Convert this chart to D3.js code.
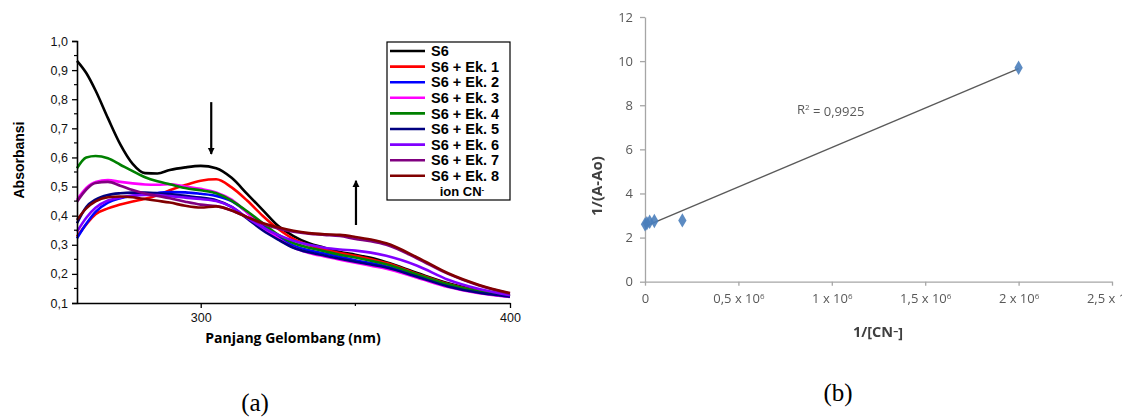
<!DOCTYPE html>
<html>
<head>
<meta charset="utf-8">
<script src="https://cdn.jsdelivr.net/npm/d3@7/dist/d3.min.js"></script>
<style>
  body { margin: 0; background: #fff; }
  svg { display: block; }
</style>
</head>
<body>
<svg id="chart" width="1122" height="419"></svg>
<script>
// ---------- data (a) : UV-Vis spectra ----------
var wavelength = [260, 263, 266, 270, 274, 278, 282, 286, 290, 295, 300, 305, 310, 315, 320, 325, 330, 335, 340, 345, 350, 355, 360, 370, 380, 390, 400];

var s6   = [0.932, 0.89, 0.83, 0.735, 0.645, 0.578, 0.546, 0.545, 0.557, 0.566, 0.571, 0.563, 0.53, 0.475, 0.42, 0.365, 0.33, 0.305, 0.29, 0.275, 0.266, 0.255, 0.24, 0.203, 0.168, 0.143, 0.125];
var ek1  = [0.328, 0.37, 0.405, 0.425, 0.438, 0.449, 0.458, 0.47, 0.487, 0.505, 0.52, 0.525, 0.497, 0.452, 0.4, 0.355, 0.32, 0.298, 0.283, 0.272, 0.262, 0.25, 0.237, 0.2, 0.165, 0.14, 0.124];
var ek2  = [0.322, 0.372, 0.413, 0.445, 0.46, 0.468, 0.474, 0.478, 0.481, 0.48, 0.475, 0.468, 0.45, 0.412, 0.37, 0.327, 0.297, 0.281, 0.27, 0.259, 0.247, 0.237, 0.225, 0.192, 0.158, 0.136, 0.122];
var ek3  = [0.454, 0.495, 0.516, 0.522, 0.516, 0.511, 0.507, 0.506, 0.508, 0.5, 0.492, 0.48, 0.455, 0.41, 0.36, 0.322, 0.29, 0.272, 0.26, 0.249, 0.238, 0.228, 0.218, 0.187, 0.155, 0.134, 0.121];
var ek4  = [0.563, 0.6, 0.605, 0.597, 0.575, 0.553, 0.532, 0.518, 0.508, 0.495, 0.487, 0.477, 0.452, 0.415, 0.375, 0.335, 0.306, 0.29, 0.278, 0.266, 0.256, 0.245, 0.233, 0.198, 0.164, 0.139, 0.124];
var ek5  = [0.374, 0.43, 0.455, 0.471, 0.477, 0.479, 0.479, 0.477, 0.474, 0.468, 0.462, 0.453, 0.43, 0.39, 0.35, 0.318, 0.29, 0.274, 0.263, 0.252, 0.242, 0.232, 0.222, 0.19, 0.157, 0.135, 0.122];
var ek6  = [0.345, 0.393, 0.427, 0.452, 0.462, 0.469, 0.471, 0.471, 0.467, 0.462, 0.457, 0.45, 0.43, 0.393, 0.36, 0.334, 0.314, 0.3, 0.29, 0.284, 0.28, 0.273, 0.262, 0.228, 0.18, 0.148, 0.127];
var ek7  = [0.448, 0.49, 0.512, 0.516, 0.503, 0.488, 0.476, 0.468, 0.46, 0.448, 0.438, 0.433, 0.418, 0.395, 0.372, 0.356, 0.345, 0.338, 0.334, 0.33, 0.32, 0.312, 0.3, 0.253, 0.2, 0.16, 0.132];
var ek8  = [0.385, 0.425, 0.449, 0.463, 0.466, 0.463, 0.457, 0.451, 0.445, 0.434, 0.428, 0.432, 0.418, 0.395, 0.375, 0.36, 0.348, 0.34, 0.336, 0.334, 0.327, 0.318, 0.305, 0.257, 0.202, 0.162, 0.134];

var seriesNames  = ["S6", "S6 + Ek. 1", "S6 + Ek. 2", "S6 + Ek. 3", "S6 + Ek. 4", "S6 + Ek. 5", "S6 + Ek. 6", "S6 + Ek. 7", "S6 + Ek. 8"];
var seriesValues = [s6, ek1, ek2, ek3, ek4, ek5, ek6, ek7, ek8];
var seriesColors = ["#000000", "#ff0000", "#0000ff", "#ff00ff", "#008000", "#000080", "#8000ff", "#800080", "#800000"];
var absTicks = [0.1, 0.2, 0.3, 0.4, 0.5, 0.6, 0.7, 0.8, 0.9, 1.0];

// ---------- data (b) : Benesi-Hildebrand ----------
var invCN   = [0, 10000, 25000, 50000, 200000, 2000000];
var invAA0  = [2.6, 2.65, 2.72, 2.75, 2.78, 9.7];
var bYTicks = [0, 2, 4, 6, 8, 10, 12];
var bXTicks = [0, 500000, 1000000, 1500000, 2000000, 2500000];
var bXLabels = ["0", "0,5 x 10", "1 x 10", "1,5 x 10", "2 x 10", "2,5 x 10"];

var svg = d3.select("#chart");
svg.append("rect").attr("width", 1122).attr("height", 419).attr("fill", "#fff");

// =============== panel (a) ===============
var xA = d3.scaleLinear().domain([260, 400]).range([77, 510]);
var yA = d3.scaleLinear().domain([0.1, 1.0]).range([303, 41]);
var fmtComma = function(d) { return d3.format(".1f")(d).replace(".", ","); };

var gA = svg.append("g");

var line = d3.line()
  .x(function(d, i) { return xA(wavelength[i]); })
  .y(function(d) { return yA(d); })
  .curve(d3.curveMonotoneX);

gA.selectAll("path.spec")
  .data(seriesValues)
  .enter().append("path")
  .attr("class", "spec")
  .attr("d", line)
  .attr("fill", "none")
  .attr("stroke", function(d, i) { return seriesColors[i]; })
  .attr("stroke-width", 2.6)
  .attr("stroke-linejoin", "round");

// y axis
var yAxisA = gA.append("g")
  .attr("transform", "translate(77,0)")
  .call(d3.axisLeft(yA).tickValues(absTicks).tickFormat(fmtComma).tickSize(5).tickPadding(4));
yAxisA.selectAll(".tick line").attr("stroke-width", 1.3);
yAxisA.select(".domain").attr("stroke-width", 1.6);
yAxisA.selectAll("text").attr("font-family", "Liberation Sans, Arial").attr("font-size", 12.5).attr("fill", "#111");
// minor ticks
gA.selectAll("line.minorY")
  .data(absTicks.slice(0, -1))
  .enter().append("line")
  .attr("x1", 74).attr("x2", 77)
  .attr("y1", function(d) { return yA(d + 0.05); })
  .attr("y2", function(d) { return yA(d + 0.05); })
  .attr("stroke", "#000").attr("stroke-width", 1.2);

// x axis
var xAxisA = gA.append("g")
  .attr("transform", "translate(0,303)")
  .call(d3.axisBottom(xA).tickValues([300, 400]).tickSize(5).tickPadding(5).tickSizeOuter(0));
xAxisA.selectAll(".tick line").attr("stroke-width", 1.3);
xAxisA.select(".domain").attr("stroke-width", 1.6);
xAxisA.selectAll("text").attr("font-family", "Liberation Sans, Arial").attr("font-size", 12.5).attr("fill", "#111");
gA.append("line")
  .attr("x1", xA(350)).attr("x2", xA(350))
  .attr("y1", 303).attr("y2", 306)
  .attr("stroke", "#000").attr("stroke-width", 1.2);

// axis titles
gA.append("text")
  .attr("transform", "translate(24,160) rotate(-90)")
  .attr("text-anchor", "middle")
  .attr("font-family", "Liberation Sans Narrow, Liberation Sans, Arial")
  .attr("font-weight", "bold").attr("font-size", 14)
  .text("Absorbansi");
gA.append("text")
  .attr("x", 293).attr("y", 343)
  .attr("text-anchor", "middle")
  .attr("font-family", "Open Sans, Liberation Sans")
  .attr("font-weight", "bold").attr("font-size", 14)
  .text("Panjang Gelombang (nm)");

// arrows
var defs = svg.append("defs");
defs.append("marker")
  .attr("id", "arrowHead")
  .attr("viewBox", "0 0 10 10")
  .attr("refX", 9).attr("refY", 5)
  .attr("markerWidth", 3.2).attr("markerHeight", 4)
  .attr("markerUnits", "strokeWidth")
  .attr("orient", "auto")
  .append("path").attr("d", "M0,0 L10,5 L0,10 Z").attr("fill", "#000");

gA.append("line")
  .attr("x1", xA(303.4)).attr("x2", xA(303.4))
  .attr("y1", yA(0.79)).attr("y2", yA(0.612))
  .attr("stroke", "#000").attr("stroke-width", 2.2)
  .attr("marker-end", "url(#arrowHead)");
gA.append("line")
  .attr("x1", xA(350.2)).attr("x2", xA(350.2))
  .attr("y1", yA(0.368)).attr("y2", yA(0.52))
  .attr("stroke", "#000").attr("stroke-width", 2.2)
  .attr("marker-end", "url(#arrowHead)");

// legend
var legend = gA.append("g").attr("transform", "translate(387,42)");
legend.append("rect")
  .attr("width", 123).attr("height", 158)
  .attr("fill", "#fff").attr("stroke", "#000").attr("stroke-width", 1.2);
var rows = legend.selectAll("g.row")
  .data(seriesNames)
  .enter().append("g")
  .attr("class", "row")
  .attr("transform", function(d, i) { return "translate(0," + (9 + i * 15.6) + ")"; });
rows.append("line")
  .attr("x1", 3).attr("x2", 38)
  .attr("stroke", function(d, i) { return seriesColors[i]; })
  .attr("stroke-width", 2.6);
rows.append("text")
  .attr("x", 44).attr("dy", "0.36em")
  .attr("font-family", "Liberation Sans, Arial")
  .attr("font-weight", "bold").attr("font-size", 14.5)
  .text(function(d) { return d; });
var ionText = legend.append("text")
  .attr("x", 75).attr("y", 9 + 9 * 15.6).attr("dy", "0.36em")
  .attr("text-anchor", "middle")
  .attr("font-family", "Liberation Sans, Arial")
  .attr("font-weight", "bold").attr("font-size", 13);
ionText.append("tspan").text("ion CN");
ionText.append("tspan").attr("dy", "-0.45em").attr("font-size", 8).text("-");

// =============== panel (b) ===============
var xB = d3.scaleLinear().domain([0, 2500000]).range([645, 1112]);
var yB = d3.scaleLinear().domain([0, 12]).range([281.7, 17]);

defs.append("filter").attr("id", "soft")
  .append("feGaussianBlur").attr("stdDeviation", 0.5);

var gB = svg.append("g").attr("filter", "url(#soft)");
var grey = "#595959";

// y axis
var yAxisB = gB.append("g")
  .attr("transform", "translate(645,0)")
  .call(d3.axisLeft(yB).tickValues(bYTicks).tickSize(5).tickPadding(7).tickSizeOuter(0));
yAxisB.selectAll("line, path").attr("stroke", "#a6a6a6").attr("stroke-width", 1.3);
yAxisB.selectAll("text").attr("font-family", "Open Sans, Liberation Sans").attr("font-size", 13).attr("fill", grey);

// x axis
var xAxisB = gB.append("g")
  .attr("transform", "translate(0,281.7)")
  .call(d3.axisBottom(xB).tickValues(bXTicks).tickSize(4).tickPadding(8).tickSizeOuter(0)
    .tickFormat(function(d, i) { return bXLabels[i]; }));
xAxisB.selectAll("line, path").attr("stroke", "#a6a6a6").attr("stroke-width", 1.3);
xAxisB.selectAll("text")
  .attr("font-family", "Open Sans, Liberation Sans").attr("font-size", 13).attr("fill", grey)
  .each(function(d, i) {
    if (i > 0) {
      d3.select(this).append("tspan").attr("dy", "-0.5em").attr("font-size", 8).text("6");
    }
  });

// least squares trend line from the points
var mx = d3.mean(invCN), my = d3.mean(invAA0);
var sxy = d3.sum(invCN, function(x, i) { return (x - mx) * (invAA0[i] - my); });
var sxx = d3.sum(invCN, function(x) { return (x - mx) * (x - mx); });
var slope = sxy / sxx, icpt = my - slope * mx;
var xLo = d3.min(invCN), xHi = d3.max(invCN);
gB.append("line")
  .attr("x1", xB(xLo)).attr("y1", yB(icpt + slope * xLo))
  .attr("x2", xB(xHi)).attr("y2", yB(icpt + slope * xHi))
  .attr("stroke", "#5a5a5a").attr("stroke-width", 1.4);

gB.selectAll("path.pt")
  .data(invCN)
  .enter().append("path")
  .attr("class", "pt")
  .attr("transform", function(d, i) { return "translate(" + xB(d) + "," + yB(invAA0[i]) + ")"; })
  .attr("d", d3.symbol().type(d3.symbolDiamond).size(60))
  .attr("fill", "#4a7ebb")
  .attr("fill-opacity", 0.9);

var rText = gB.append("text")
  .attr("x", 797).attr("y", 114)
  .attr("font-family", "Open Sans, Liberation Sans").attr("font-size", 13)
  .attr("fill", grey);
rText.append("tspan").text("R");
rText.append("tspan").attr("dy", "-0.45em").attr("font-size", 8).text("2");
rText.append("tspan").attr("dy", "0.45em").text(" = 0,9925");

gB.append("text")
  .attr("transform", "translate(602,186) rotate(-90)")
  .attr("text-anchor", "middle")
  .attr("font-family", "Open Sans, Liberation Sans")
  .attr("font-weight", "bold").attr("font-size", 15)
  .attr("fill", "#404040")
  .text("1/(A-Ao)");

var cnTitle = gB.append("text")
  .attr("x", 878).attr("y", 337)
  .attr("text-anchor", "middle")
  .attr("font-family", "Open Sans, Liberation Sans")
  .attr("font-weight", "bold").attr("font-size", 14.5)
  .attr("fill", "#404040");
cnTitle.append("tspan").text("1/[CN");
cnTitle.append("tspan").attr("dy", "-0.3em").attr("font-size", 10).text("\u2013");
cnTitle.append("tspan").attr("dy", "0.3em").text("]");

// panel captions
svg.append("text")
  .attr("x", 255).attr("y", 411)
  .attr("text-anchor", "middle")
  .attr("font-family", "Liberation Serif, Times New Roman")
  .attr("font-size", 25)
  .text("(a)");
svg.append("text")
  .attr("x", 838).attr("y", 401)
  .attr("text-anchor", "middle")
  .attr("font-family", "Liberation Serif, Times New Roman")
  .attr("font-size", 25)
  .text("(b)");
</script>
</body>
</html>
